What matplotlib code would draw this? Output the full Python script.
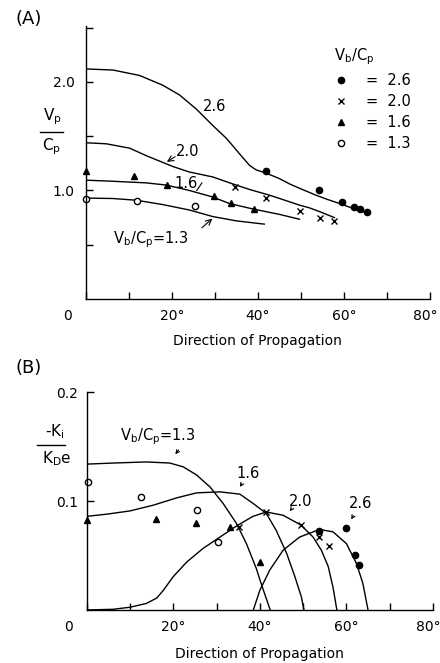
"""two panel plot: phase velocity and growth rate vs direction of propagation"""
import matplotlib
matplotlib.use('Agg')
import matplotlib.pyplot as plt
import matplotlib.transforms as mtransforms
from matplotlib.lines import Line2D

plt.rcParams['font.family'] = 'DejaVu Sans'
plt.rcParams['mathtext.default'] = 'regular'
plt.rcParams['font.size'] = 10

# ---- panel A: Vp/Cp ----
a_x26 = [0, 6.3, 12.5, 17.9, 21.8, 25.7, 29.5, 32.7, 35.7, 38.1, 39.6, 41.9, 45, 47.4, 50, 53.5, 56, 59, 62.8, 65.5]
a_y26 = [2.12, 2.11, 2.06, 1.97, 1.88, 1.75, 1.60, 1.48, 1.34, 1.23, 1.19, 1.16, 1.11, 1.06, 1.015, 0.957, 0.92, 0.88, 0.825, 0.79]
a_x20 = [0, 4.8, 10.2, 14.1, 17.2, 20.3, 24.1, 29.5, 34.2, 38, 42.7, 45, 49.7, 52, 54.7, 57.8]
a_y20 = [1.44, 1.43, 1.39, 1.32, 1.27, 1.22, 1.17, 1.125, 1.06, 1.01, 0.957, 0.927, 0.865, 0.84, 0.80, 0.75]
a_x16 = [0, 6.3, 14.1, 18.7, 24.1, 29.5, 33.4, 38.8, 45, 49.7]
a_y16 = [1.095, 1.085, 1.07, 1.05, 1.0, 0.94, 0.88, 0.83, 0.78, 0.735]
a_x13 = [0, 6.3, 11.8, 17.9, 24.1, 29.5, 35, 41.5]
a_y13 = [0.93, 0.926, 0.91, 0.87, 0.82, 0.76, 0.72, 0.69]

a_dot_x = [41.9, 54.2, 59.6, 62.4, 63.8, 65.4]
a_dot_y = [1.18, 1.0, 0.895, 0.85, 0.825, 0.80]
a_x_x = [34.6, 41.8, 49.9, 54.5, 57.6]
a_x_y = [1.03, 0.935, 0.81, 0.75, 0.72]
a_tri_x = [0, 11.1, 18.9, 29.8, 33.8, 39.1]
a_tri_y = [1.18, 1.13, 1.055, 0.95, 0.885, 0.83]
a_circ_x = [0, 12, 25.3]
a_circ_y = [0.92, 0.905, 0.855]

# ---- panel B: -Ki/KDe ----
b_x13 = [0, 6.1, 13.8, 19.2, 22.3, 25.4, 28.5, 31.5, 34.6, 36.9, 37.7, 39.2, 40, 41.1, 42.4]
b_y13 = [0.134, 0.135, 0.136, 0.135, 0.1315, 0.124, 0.113, 0.098, 0.0795, 0.061, 0.053, 0.038, 0.028, 0.015, 0]
b_x16 = [0, 4.6, 10, 15.4, 20.8, 25.4, 30.8, 35.4, 38.4, 41.5, 43.8, 46.2, 48.1, 49.6, 50.2]
b_y16 = [0.086, 0.088, 0.091, 0.0963, 0.103, 0.1076, 0.1085, 0.1064, 0.098, 0.0887, 0.073, 0.052, 0.0306, 0.012, 0]
b_x20 = [0, 6.1, 10, 13.8, 16.2, 17.7, 20, 23.1, 26.9, 30.8, 33.8, 35.4, 38.4, 41.5, 45.4, 49.5, 52.3, 54.2, 55.8, 56.9, 57.8]
b_y20 = [0, 0.0006, 0.0025, 0.006, 0.011, 0.018, 0.0306, 0.044, 0.0566, 0.067, 0.075, 0.079, 0.086, 0.090, 0.087, 0.078, 0.067, 0.055, 0.040, 0.021, 0]
b_x26 = [38.5, 40, 42.3, 45.4, 49.2, 53.8, 56.9, 60, 62.3, 63.8, 65]
b_y26 = [0, 0.018, 0.0367, 0.055, 0.067, 0.074, 0.0718, 0.061, 0.043, 0.0245, 0]

b_dot_x = [53.7, 60, 62.1, 62.9]
b_dot_y = [0.073, 0.075, 0.0505, 0.041]
b_x_x = [35.1, 41.5, 49.5, 53.7, 55.9]
b_x_y = [0.0765, 0.090, 0.078, 0.067, 0.0587]
b_tri_x = [0.15, 16, 25.2, 33.2, 40]
b_tri_y = [0.083, 0.084, 0.0795, 0.0765, 0.0443]
b_circ_x = [0.4, 12.5, 25.4, 30.3]
b_circ_y = [0.1177, 0.104, 0.0917, 0.062]

xticks = [0, 10, 20, 30, 40, 50, 60, 70, 80]
xlabel_pos = [-4.2, 20, 40, 60, 79.0]
xlabel_txt = ['0', '20°', '40°', '60°', '80°']

fig = plt.figure(figsize=(4.4, 6.63), dpi=100)
axA = fig.add_axes([0.195, 0.549, 0.782, 0.4125])
axB = fig.add_axes([0.197, 0.080, 0.787, 0.3283])

lw = 1.0
def style_axes(ax, labelpad):
  for s in ['top', 'right']:
    ax.spines[s].set_visible(False)
  for s in ['left', 'bottom']:
    ax.spines[s].set_linewidth(1.0)
  ax.set_xlim(0, 80)
  ax.set_xticks(xticks)
  ax.set_xticklabels([''] * len(xticks))
  ax.tick_params(direction='in', length=5, width=1.0, labelsize=10)
  trans = mtransforms.blended_transform_factory(ax.transData, ax.transAxes)
  off = mtransforms.ScaledTranslation(0, -17 / 100, fig.dpi_scale_trans)
  for xp, t in zip(xlabel_pos, xlabel_txt):
    ax.text(xp, 0, t, transform=trans + off, ha='center', va='center',
            fontsize=10, clip_on=False)
  ax.set_xlabel('Direction of Propagation', fontsize=10, labelpad=labelpad)

def markers(ax, dx, dy, xx, xy, tx, ty, cx, cy):
  h1, = ax.plot(dx, dy, 'o', color='black', ms=4.5, ls='none', clip_on=False)
  h2, = ax.plot(xx, xy, 'x', color='black', ms=5, mew=1.0, ls='none', clip_on=False)
  h3, = ax.plot(tx, ty, '^', color='black', ms=4, ls='none', clip_on=False)
  h4, = ax.plot(cx, cy, 'o', mfc='white', mec='black', mew=1.0, ms=4.5, ls='none', clip_on=False)
  return [h1, h2, h3, h4]

# panel A
style_axes(axA, 22)
axA.set_ylim(0, 2.52)
axA.set_yticks([0.5, 1.0, 1.5, 2.0, 2.5])
axA.set_yticklabels(['', '1.0', '', '2.0', ''])
axA.tick_params(axis='y', pad=8)
for x, y in [(a_x26, a_y26), (a_x20, a_y20), (a_x16, a_y16), (a_x13, a_y13)]:
  axA.plot(x, y, color='black', lw=lw)
hs = markers(axA, a_dot_x, a_dot_y, a_x_x, a_x_y, a_tri_x, a_tri_y, a_circ_x, a_circ_y)
leg = axA.legend(hs, ['=  2.6', '=  2.0', '=  1.6', '=  1.3'], title='$V_b/C_p$',
                 frameon=False, loc='upper left', bbox_to_anchor=(0.70, 0.952),
                 handlelength=1.0, handletextpad=1.2, labelspacing=0.42,
                 fontsize=10.5, title_fontsize=10.5, borderpad=0)
leg._legend_box.align = 'left'
axA.text(29.9, 1.77, '2.6', ha='center', va='center', fontsize=10.5)
axA.text(23.6, 1.355, '2.0', ha='center', va='center', fontsize=10.5)
axA.annotate('', xy=(18.3, 1.25), xytext=(21.3, 1.325),
             arrowprops=dict(arrowstyle='->', lw=0.8, color='black'))
axA.text(23.4, 1.064, '1.6', ha='center', va='center', fontsize=10.5)
axA.plot([25.8, 27.0], [1.0, 1.07], color='black', lw=0.8)
axA.text(15.2, 0.543, '$V_b/C_p$=1.3', ha='center', va='center', fontsize=10.5)
axA.annotate('', xy=(29.9, 0.757), xytext=(26.5, 0.64),
             arrowprops=dict(arrowstyle='->', lw=0.8, color='black'))

# panel B
style_axes(axB, 23)
axB.set_ylim(0, 0.2)
axB.set_yticks([0.1, 0.2])
axB.set_yticklabels(['0.1', '0.2'])
axB.tick_params(axis='y', pad=6)
for x, y in [(b_x13, b_y13), (b_x16, b_y16), (b_x20, b_y20), (b_x26, b_y26)]:
  axB.plot(x, y, color='black', lw=lw)
markers(axB, b_dot_x, b_dot_y, b_x_x, b_x_y, b_tri_x, b_tri_y, b_circ_x, b_circ_y)
axB.text(16.5, 0.159, '$V_b/C_p$=1.3', ha='center', va='center', fontsize=10.5)
axB.text(37.3, 0.125, '1.6', ha='center', va='center', fontsize=10.5)
axB.text(49.4, 0.0994, '2.0', ha='center', va='center', fontsize=10.5)
axB.text(63.2, 0.098, '2.6', ha='center', va='center', fontsize=10.5)
for tip, tail in [((20.1, 0.141), (21.6, 0.149)), ((35.0, 0.111), (36.2, 0.118)),
                  ((46.5, 0.0887), (47.7, 0.0948)), ((60.8, 0.081), (61.9, 0.0887))]:
  axB.annotate('', xy=tip, xytext=tail,
               arrowprops=dict(arrowstyle='->', lw=0.8, color='black',
                               mutation_scale=6))

# y labels drawn as fractions
fig.text(52 / 440, 1 - 117 / 663, '$V_p$', ha='center', va='center', fontsize=11)
fig.add_artist(Line2D([40 / 440, 63 / 440], [1 - 131.5 / 663] * 2, color='black', lw=1.0))
fig.text(52 / 440, 1 - 147 / 663, '$C_p$', ha='center', va='center', fontsize=11)

fig.text(55 / 440, 1 - 432 / 663, '-$K_i$', ha='center', va='center', fontsize=11)
fig.add_artist(Line2D([37 / 440, 65 / 440], [1 - 445 / 663] * 2, color='black', lw=1.0))
fig.text(57 / 440, 1 - 459 / 663, 'K$_D$e', ha='center', va='center', fontsize=11)

fig.text(28.5 / 440, 1 - 19 / 663, '(A)', ha='center', va='center', fontsize=13)
fig.text(28.5 / 440, 1 - 368 / 663, '(B)', ha='center', va='center', fontsize=13)

plt.savefig('out.png', dpi=100)
